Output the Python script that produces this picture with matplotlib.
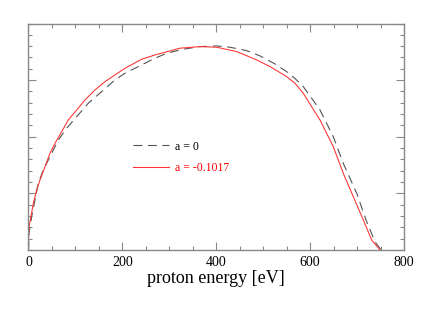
import matplotlib
matplotlib.use("Agg")
import matplotlib.pyplot as plt
from matplotlib.ticker import MultipleLocator

# proton energy spectra (arbitrary units)
e_a0 = [0, 1.0, 6.8, 13.8, 20.9, 31.5, 45.8, 63.5, 81.4, 102.7, 127.4, 155.9,
        184.3, 205.6, 241.2, 269.5, 294.4, 329.8, 365.4, 401.0, 429.3, 464.8,
        493.2, 525.2, 550.0, 567.7, 585.4, 603.3, 621.0, 649.3, 670.6, 699.2,
        720.5, 738.2, 751.0]
y_a0 = [0, 0.30, 0.588, 0.883, 1.178, 1.413, 1.648, 1.943, 2.150, 2.355, 2.592, 2.797,
        3.004, 3.122, 3.269, 3.387, 3.475, 3.546, 3.592, 3.604, 3.581, 3.521,
        3.428, 3.286, 3.150, 3.030, 2.885, 2.680, 2.473, 2.002, 1.532, 1.002,
        0.500, 0.147, 0]

e_a1 = [0, 0.2, 1.07, 5.3, 10.2, 17.5, 24.5, 35.2, 45.8, 56.5, 70.7, 84.8, 102.7,
        120.4, 141.7, 163.0, 205.6, 241.2, 269.5, 322.7, 365.4, 401.0, 443.5,
        486.2, 514.5, 550.0, 567.7, 585.4, 603.3, 621.0, 649.3, 670.6, 692.0,
        713.3, 731.1, 749.0]
y_a1 = [0, 0.212, 0.412, 0.588, 0.825, 1.060, 1.237, 1.472, 1.708, 1.885, 2.090, 2.297, 2.473,
        2.650, 2.827, 2.974, 3.210, 3.369, 3.445, 3.564, 3.592, 3.581, 3.504,
        3.357, 3.239, 3.062, 2.945, 2.769, 2.530, 2.297, 1.825, 1.355, 0.942,
        0.530, 0.177, 0]

labels = ["a = 0", "a = -0.1017"]
x_ticks = [0, 200, 400, 600, 800]

plt.rcParams["font.family"] = ["Liberation Serif", "DejaVu Serif"]

fig = plt.figure(figsize=(4.39, 3.11), dpi=100)
ax = fig.add_axes([0.0649, 0.1961, 0.8554, 0.7283])

ax.plot(e_a0, y_a0, color="#555555", lw=0.8, dashes=(8, 5), label=labels[0])
ax.plot(e_a1, y_a1, color="#ff3030", lw=0.75, label=labels[1])

ax.set_xlim(0, 800)
ax.set_ylim(0, 4)
ax.set_xticks(x_ticks)
ax.xaxis.set_minor_locator(MultipleLocator(50))
ax.yaxis.set_major_locator(MultipleLocator(1))
ax.yaxis.set_minor_locator(MultipleLocator(0.2))
ax.set_yticklabels([])

ax.tick_params(which="both", direction="in", top=True, right=True,
               color="#888888", width=0.8)
ax.tick_params(which="major", length=6, labelsize=10, pad=4)
ax.tick_params(which="minor", length=3)
for sp in ax.spines.values():
    sp.set_edgecolor("#888888")
    sp.set_linewidth(1.0)

ax.set_xlabel("proton energy [eV]", fontsize=13, labelpad=1)

leg = ax.legend(loc="upper left", bbox_to_anchor=(0.279, 0.483), frameon=False,
                fontsize=8.5, handlelength=3.0, handletextpad=0.55,
                labelspacing=0.8, borderpad=0, borderaxespad=0)
leg.get_texts()[0].set_color("black")
leg.get_texts()[1].set_color("red")

fig.savefig("out.png", dpi=100, facecolor="white")
